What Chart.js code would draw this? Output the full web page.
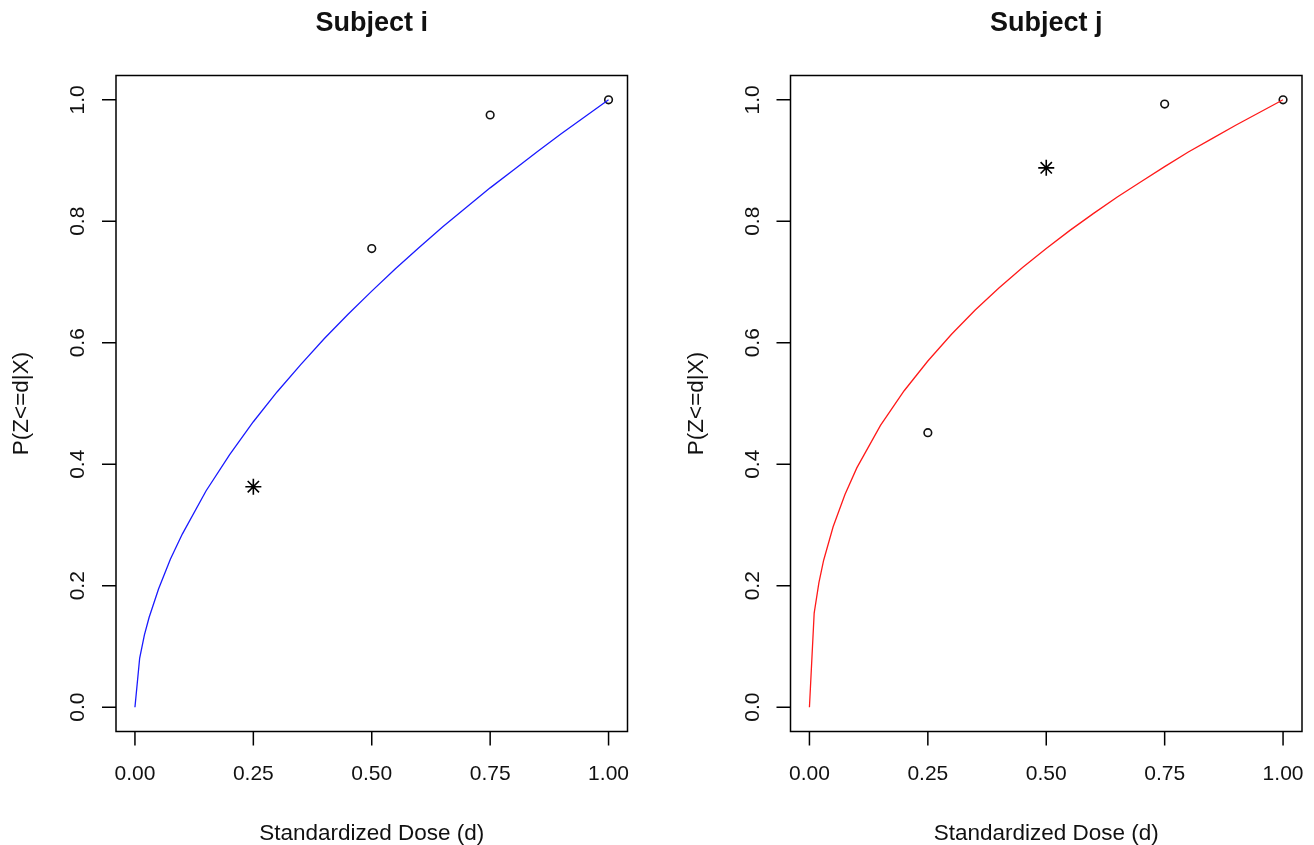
<!DOCTYPE html>
<html>
<head>
<meta charset="utf-8">
<script src="https://cdn.jsdelivr.net/npm/chart.js@4/dist/chart.umd.min.js"></script>
<style>
  html, body { margin: 0; padding: 0; background: #fff; }
  #wrap { position: relative; width: 1314px; height: 845px; }
  canvas { position: absolute; top: 0; }
</style>
</head>
<body>
<div id="wrap">
  <canvas id="left" width="657" height="845" style="left:0"></canvas>
  <canvas id="right" width="657" height="845" style="left:657px"></canvas>
</div>
<script>
// dose grid the fitted curves were read at
const doseGrid = [0, 0.01, 0.02, 0.03, 0.05, 0.075, 0.1, 0.15, 0.2, 0.25, 0.3, 0.35, 0.4, 0.45, 0.5,
                  0.55, 0.6, 0.65, 0.7, 0.75, 0.8, 0.85, 0.9, 0.95, 1];
// fitted P(Z<=d|X)
const curveI = [0, 0.081, 0.119, 0.148, 0.195, 0.244, 0.285, 0.356, 0.416, 0.470, 0.519, 0.564, 0.607, 0.647, 0.685,
                0.722, 0.757, 0.791, 0.823, 0.855, 0.885, 0.915, 0.944, 0.972, 1];
const curveJ = [0, 0.155, 0.205, 0.242, 0.297, 0.350, 0.394, 0.464, 0.521, 0.570, 0.614, 0.654, 0.690, 0.724, 0.755,
                0.785, 0.813, 0.840, 0.865, 0.890, 0.914, 0.936, 0.958, 0.979, 1];
// observed points (circles) and the highlighted dose (star)
const obsDoseI = [0.5, 0.75, 1];
const obsProbI = [0.755, 0.975, 1];
const starI = [0.25, 0.363];
const obsDoseJ = [0.25, 0.75, 1];
const obsProbJ = [0.452, 0.993, 1];
const starJ = [0.5, 0.888];

const doseTicks = [0, 0.25, 0.5, 0.75, 1];
const doseTickLabels = ['0.00', '0.25', '0.50', '0.75', '1.00'];
const probTicks = [0, 0.2, 0.4, 0.6, 0.8, 1];
const probTickLabels = ['0.0', '0.2', '0.4', '0.6', '0.8', '1.0'];

const FONT = '"Liberation Sans", Arial, sans-serif';

// R style box, ticks and labels drawn from the chart's scales
const rAxes = {
  id: 'rAxes',
  afterDraw(chart, args, opts) {
    const { ctx, chartArea: a, scales: { x, y } } = chart;
    ctx.save();
    ctx.strokeStyle = '#000';
    ctx.fillStyle = '#111';
    ctx.lineWidth = 1.5;
    ctx.strokeRect(a.left, a.top, a.right - a.left, a.bottom - a.top);

    ctx.beginPath();
    doseTicks.forEach(v => {
      const px = x.getPixelForValue(v);
      ctx.moveTo(px, a.bottom);
      ctx.lineTo(px, a.bottom + 14);
    });
    probTicks.forEach(v => {
      const py = y.getPixelForValue(v);
      ctx.moveTo(a.left, py);
      ctx.lineTo(a.left - 14, py);
    });
    ctx.stroke();

    ctx.font = '21px ' + FONT;
    ctx.textAlign = 'center';
    ctx.textBaseline = 'alphabetic';
    doseTicks.forEach((v, i) => ctx.fillText(doseTickLabels[i], x.getPixelForValue(v), a.bottom + 48.5));
    probTicks.forEach((v, i) => {
      ctx.save();
      ctx.translate(a.left - 32, y.getPixelForValue(v));
      ctx.rotate(-Math.PI / 2);
      ctx.fillText(probTickLabels[i], 0, 0);
      ctx.restore();
    });

    const cx = (a.left + a.right) / 2;
    const cy = (a.top + a.bottom) / 2;
    ctx.font = '22.5px ' + FONT;
    ctx.fillText('Standardized Dose (d)', cx, a.bottom + 108.5);
    ctx.save();
    ctx.translate(a.left - 88, cy);
    ctx.rotate(-Math.PI / 2);
    ctx.fillText('P(Z<=d|X)', 0, 0);
    ctx.restore();

    ctx.font = 'bold 27px ' + FONT;
    ctx.fillText(opts.title, cx, a.top - 44.5);
    ctx.restore();
  }
};

function makeChart(id, title, curve, color, obsDose, obsProb, star, padding) {
  new Chart(document.getElementById(id), {
    type: 'scatter',
    data: {
      datasets: [
        {
          data: doseGrid.map((d, i) => ({ x: d, y: curve[i] })),
          showLine: true, borderColor: color, borderWidth: 1.3,
          pointRadius: 0, tension: 0
        },
        {
          data: obsDose.map((d, i) => ({ x: d, y: obsProb[i] })),
          showLine: false, pointStyle: 'circle', pointRadius: 3.8,
          pointBorderColor: '#111', pointBackgroundColor: 'rgba(0,0,0,0)', pointBorderWidth: 1.6
        },
        {
          data: [{ x: star[0], y: star[1] }],
          showLine: false, pointStyle: 'star', pointRadius: 8,
          pointBorderColor: '#000', pointBorderWidth: 1.6
        }
      ]
    },
    options: {
      responsive: false, animation: false, devicePixelRatio: 1,
      layout: { padding },
      scales: {
        x: { type: 'linear', min: -0.04, max: 1.04, display: false },
        y: { type: 'linear', min: -0.04, max: 1.04, display: false }
      },
      plugins: { legend: { display: false }, tooltip: { enabled: false }, rAxes: { title } }
    },
    plugins: [rAxes]
  });
}

makeChart('left', 'Subject i', curveI, '#1a1aff', obsDoseI, obsProbI, starI,
  { left: 116, right: 29.5, top: 75.5, bottom: 113.5 });
makeChart('right', 'Subject j', curveJ, '#ff1a1a', obsDoseJ, obsProbJ, starJ,
  { left: 133.5, right: 12, top: 75.5, bottom: 113.5 });
</script>
</body>
</html>
